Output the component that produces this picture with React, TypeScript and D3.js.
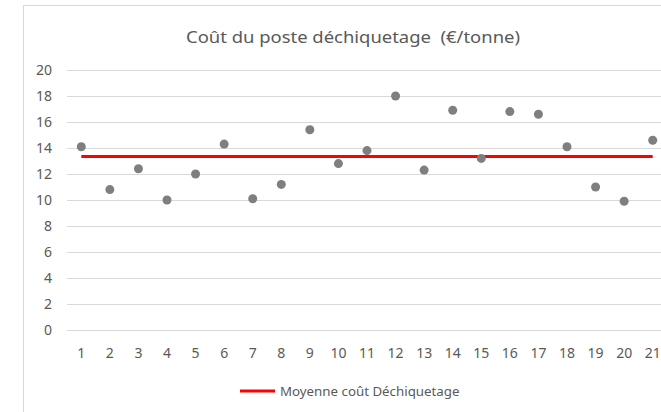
import * as d3 from 'd3'

// données
const categories = ['1', '2', '3', '4', '5', '6', '7', '8', '9', '10', '11', '12', '13', '14', '15', '16', '17', '18', '19', '20', '21']
const couts = [14.1, 10.8, 12.4, 10.0, 12.0, 14.3, 10.1, 11.2, 15.4, 12.8, 13.8, 18.0, 12.3, 16.9, 13.2, 16.8, 16.6, 14.1, 11.0, 9.9, 14.6]
const moyenne = 13.35
const yTicks = [0, 2, 4, 6, 8, 10, 12, 14, 16, 18, 20]

const titre = 'Coût du poste déchiquetage  (€/tonne)'
const legende = 'Moyenne coût Déchiquetage'

const W = 661
const H = 412
const frame = { left: 23, top: 5, width: 660 }
const plot = { left: 67, right: 667, top: 70, bottom: 330 }
const font = '"Noto Sans", sans-serif'
const textColor = '#595959'

export default function App() {
    const x = d3.scaleBand().domain(categories).range([plot.left, plot.right])
    const y = d3.scaleLinear().domain([0, 20]).range([plot.bottom, plot.top])
    const cx = (c) => (x(c) ?? 0) + x.bandwidth() / 2

    const meanLine = d3
        .line()
        .x((d) => cx(d))
        .y(() => y(moyenne))

    return (
        <svg
            width={W}
            height={H}
            style={{ position: 'absolute', left: 0, top: 0, background: '#fff' }}
        >
            <rect x={0} y={0} width={W} height={H} fill="#fff" />
            {/* cadre du graphique */}
            <line x1={frame.left + 0.5} x2={frame.left + 0.5} y1={frame.top} y2={H} stroke="#d9d9d9" />
            <line x1={frame.left} x2={W} y1={frame.top + 0.5} y2={frame.top + 0.5} stroke="#d9d9d9" />

            <text
                x={frame.left + frame.width / 2}
                y={43}
                textAnchor="middle"
                fontFamily={font}
                fontSize={17}
                fill={textColor}
                textLength={334}
                lengthAdjust="spacingAndGlyphs"
                style={{ whiteSpace: 'pre' }}
            >
                {titre}
            </text>

            {yTicks.map((t) => (
                <g key={t}>
                    <line
                        x1={plot.left}
                        x2={plot.right}
                        y1={Math.round(y(t)) + 0.5}
                        y2={Math.round(y(t)) + 0.5}
                        stroke="#d9d9d9"
                    />
                    <text
                        x={52}
                        y={y(t)}
                        dy="0.35em"
                        textAnchor="end"
                        fontFamily={font}
                        fontSize={14}
                        fill={textColor}
                    >
                        {t}
                    </text>
                </g>
            ))}

            {categories.map((c) => (
                <text
                    key={c}
                    x={cx(c)}
                    y={358}
                    textAnchor="middle"
                    fontFamily={font}
                    fontSize={14}
                    fill={textColor}
                >
                    {c}
                </text>
            ))}

            <path
                d={meanLine(categories) ?? ''}
                fill="none"
                stroke="#ff0000"
                strokeWidth={3}
            />

            {couts.map((v, i) => (
                <circle key={i} cx={cx(categories[i])} cy={y(v)} r={4.5} fill="#7f7f7f" />
            ))}

            {/* légende */}
            <line x1={240} x2={275} y1={391} y2={391} stroke="#ff0000" strokeWidth={3} />
            <text
                x={280}
                y={391}
                dy="0.35em"
                fontFamily={font}
                fontSize={13.3}
                fill={textColor}
            >
                {legende}
            </text>
        </svg>
    )
}
